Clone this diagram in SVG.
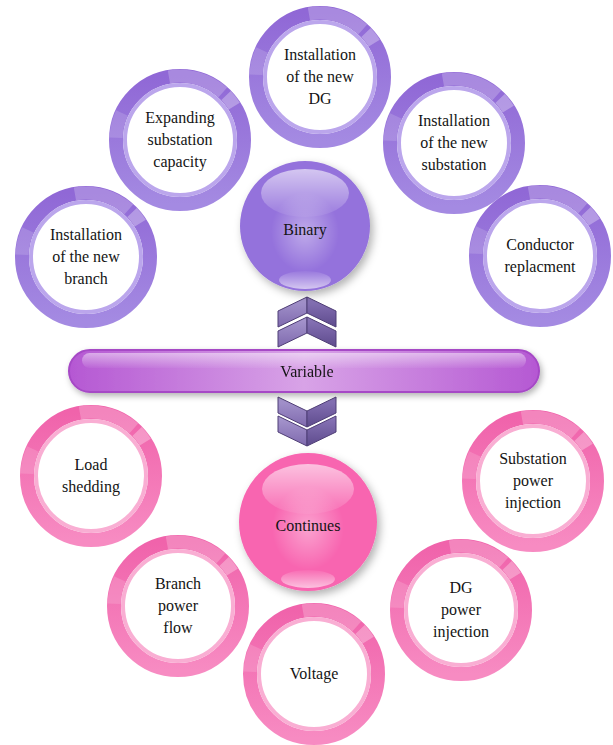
<svg xmlns="http://www.w3.org/2000/svg" xmlns:xlink="http://www.w3.org/1999/xlink" width="613" height="745" viewBox="0 0 613 745">
<defs>
<style>
.t{font-family:'Liberation Serif','DejaVu Serif',serif;font-size:16px;fill:#141414;text-anchor:middle}
.gl{fill:none;stroke:#ffffff;stroke-width:13}
</style>
<linearGradient id="gP" x1="0" y1="0" x2="0" y2="1"><stop offset="0" stop-color="#9068d6"/><stop offset="1" stop-color="#a48ae2"/></linearGradient>
<linearGradient id="gK" x1="0" y1="0" x2="0" y2="1"><stop offset="0" stop-color="#f063ab"/><stop offset="1" stop-color="#f78bc2"/></linearGradient>
<filter id="sh" x="-30%" y="-30%" width="160%" height="160%"><feDropShadow dx="3" dy="4" stdDeviation="4" flood-color="#000" flood-opacity="0.3"/></filter>
<filter id="sh2" x="-10%" y="-40%" width="120%" height="180%"><feDropShadow dx="2" dy="3" stdDeviation="3" flood-color="#000" flood-opacity="0.3"/></filter>
<linearGradient id="hiTop" x1="0" y1="0" x2="0" y2="1"><stop offset="0" stop-color="#fff" stop-opacity="0.6"/><stop offset="1" stop-color="#fff" stop-opacity="0.05"/></linearGradient>
<linearGradient id="hiBot" x1="0" y1="1" x2="0" y2="0"><stop offset="0" stop-color="#fff" stop-opacity="0.6"/><stop offset="1" stop-color="#fff" stop-opacity="0.05"/></linearGradient>
<radialGradient id="glow" cx="0.5" cy="0.5" r="0.5"><stop offset="0" stop-color="#fff" stop-opacity="0.4"/><stop offset="1" stop-color="#fff" stop-opacity="0"/></radialGradient>
<linearGradient id="barG" x1="0" y1="0" x2="1" y2="0"><stop offset="0" stop-color="#b558d3"/><stop offset="0.5" stop-color="#d8a3e7"/><stop offset="1" stop-color="#b558d3"/></linearGradient>
<linearGradient id="chL" x1="0" y1="0" x2="0" y2="1"><stop offset="0" stop-color="#a898cf"/><stop offset="1" stop-color="#7f6aae"/></linearGradient>
<linearGradient id="chR" x1="0" y1="0" x2="0" y2="1"><stop offset="0" stop-color="#8a76b9"/><stop offset="1" stop-color="#5e4b8d"/></linearGradient>
<g id="ringP">
<circle r="64" fill="#fff" stroke="url(#gP)" stroke-width="14"/>
<circle r="55" fill="none" stroke="#bba6ec" stroke-width="4"/>
<path class="gl" d="M-11.11,-63.03 A64,64 0 0 1 42.82,-47.56" stroke-opacity="0.22"/>
<path class="gl" d="M46.04,-44.46 A64,64 0 0 1 54.28,-33.92" stroke-opacity="0.3"/>
<path class="gl" d="M-63.96,-2.23 A64,64 0 0 1 -58,-27.05" stroke-opacity="0.15"/>
</g>
<g id="ringK">
<circle r="64" fill="#fff" stroke="url(#gK)" stroke-width="14"/>
<circle r="55" fill="none" stroke="#f9aed3" stroke-width="4"/>
<path class="gl" d="M-11.11,-63.03 A64,64 0 0 1 42.82,-47.56" stroke-opacity="0.22"/>
<path class="gl" d="M46.04,-44.46 A64,64 0 0 1 54.28,-33.92" stroke-opacity="0.3"/>
<path class="gl" d="M-63.96,-2.23 A64,64 0 0 1 -58,-27.05" stroke-opacity="0.15"/>
</g>
<g id="chevUp">
<polygon points="-29,14 0,0 0,16 -29,30" fill="url(#chL)" stroke="#4f3e76" stroke-width="1"/>
<polygon points="0,0 29,14 29,30 0,16" fill="url(#chR)" stroke="#4f3e76" stroke-width="1"/>
</g>
<g id="chevDn">
<polygon points="-29,0 0,14 0,30 -29,16" fill="url(#chL)" stroke="#4f3e76" stroke-width="1"/>
<polygon points="0,14 29,0 29,16 0,30" fill="url(#chR)" stroke="#4f3e76" stroke-width="1"/>
</g>
</defs>
<rect width="613" height="745" fill="#fff"/>

<g id="connectors">
<use href="#chevUp" transform="translate(307,297)"/>
<use href="#chevUp" transform="translate(307,317)"/>
<use href="#chevDn" transform="translate(307,397)"/>
<use href="#chevDn" transform="translate(307,416)"/>
</g>

<g id="variable" filter="url(#sh2)">
<rect x="69" y="350" width="470" height="42" rx="21" fill="url(#barG)" stroke="#a648c6" stroke-width="2"/>
<rect x="82" y="353" width="444" height="15" rx="7.5" fill="url(#hiTop)" opacity="0.8"/>
<text class="t" x="307" y="377" font-family="'Liberation Serif', serif">Variable</text>
</g>

<g id="binary">
<circle cx="305" cy="226" r="65" fill="#9472dc" filter="url(#sh)"/>
<ellipse cx="305" cy="232" rx="34" ry="40" fill="url(#glow)"/>
<ellipse cx="305" cy="193" rx="44" ry="24" fill="url(#hiTop)"/>
<ellipse cx="305" cy="280" rx="26" ry="9" fill="url(#hiBot)"/>
<text class="t" x="305" y="235" font-family="'Liberation Serif', serif">Binary</text>
</g>

<g id="continues">
<circle cx="308" cy="522" r="69" fill="#f865b0" filter="url(#sh)"/>
<ellipse cx="308" cy="528" rx="36" ry="42" fill="url(#glow)"/>
<ellipse cx="308" cy="489" rx="46" ry="25" fill="url(#hiTop)"/>
<ellipse cx="308" cy="579" rx="27" ry="9" fill="url(#hiBot)"/>
<text class="t" x="308" y="531" font-family="'Liberation Serif', serif">Continues</text>
</g>

<g id="dg-install" transform="translate(320,77)" font-family="'Liberation Serif', serif">
<use href="#ringP"/>
<text class="t" x="0" y="-17">Installation</text>
<text class="t" x="0" y="5">of the new</text>
<text class="t" x="0" y="27">DG</text>
</g>
<g id="expanding" transform="translate(180,140)">
<use href="#ringP"/>
<text class="t" x="0" y="-17">Expanding</text>
<text class="t" x="0" y="5">substation</text>
<text class="t" x="0" y="27">capacity</text>
</g>
<g id="substation-install" transform="translate(454,143)">
<use href="#ringP"/>
<text class="t" x="0" y="-17">Installation</text>
<text class="t" x="0" y="5">of the new</text>
<text class="t" x="0" y="27">substation</text>
</g>
<g id="branch-install" transform="translate(86,257)">
<use href="#ringP"/>
<text class="t" x="0" y="-17">Installation</text>
<text class="t" x="0" y="5">of the new</text>
<text class="t" x="0" y="27">branch</text>
</g>
<g id="conductor" transform="translate(540,256)">
<use href="#ringP"/>
<text class="t" x="0" y="-6">Conductor</text>
<text class="t" x="0" y="16">replacment</text>
</g>

<g id="load-shedding" transform="translate(91,476)">
<use href="#ringK"/>
<text class="t" x="0" y="-6">Load</text>
<text class="t" x="0" y="16">shedding</text>
</g>
<g id="substation-injection" transform="translate(533,481)">
<use href="#ringK"/>
<text class="t" x="0" y="-17">Substation</text>
<text class="t" x="0" y="5">power</text>
<text class="t" x="0" y="27">injection</text>
</g>
<g id="branch-flow" transform="translate(178,606)">
<use href="#ringK"/>
<text class="t" x="0" y="-17">Branch</text>
<text class="t" x="0" y="5">power</text>
<text class="t" x="0" y="27">flow</text>
</g>
<g id="dg-injection" transform="translate(461,610)">
<use href="#ringK"/>
<text class="t" x="0" y="-17">DG</text>
<text class="t" x="0" y="5">power</text>
<text class="t" x="0" y="27">injection</text>
</g>
<g id="voltage" transform="translate(314,674)">
<use href="#ringK"/>
<text class="t" x="0" y="5">Voltage</text>
</g>
</svg>
